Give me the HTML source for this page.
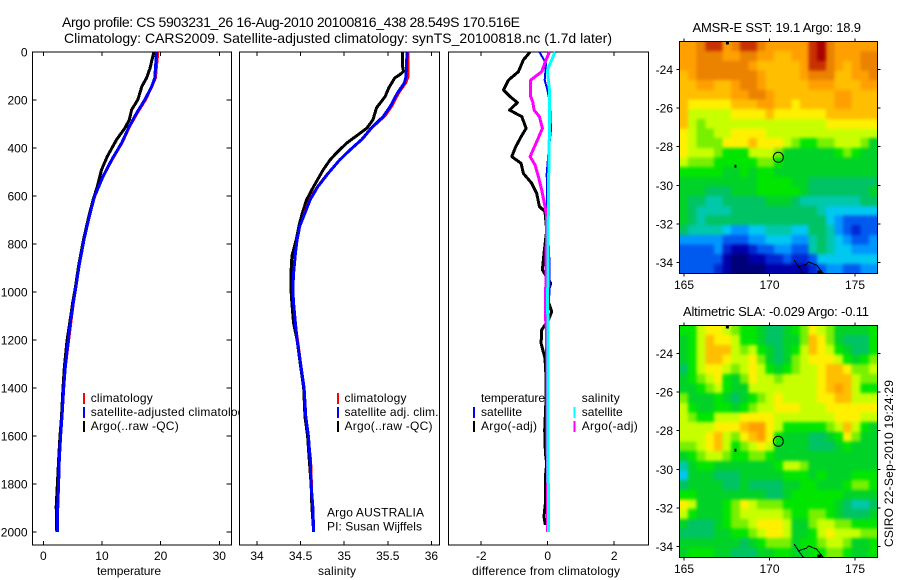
<!DOCTYPE html>
<html lang="en">
<head>
<meta charset="utf-8">
<title>Argo profile CS 5903231_26</title>
<style>
html,body{margin:0;padding:0;background:#fff;width:900px;height:580px;overflow:hidden}
svg{display:block;position:absolute;left:0;top:0}
text{font-family:"Liberation Sans",sans-serif;font-size:12px;fill:#000}
</style>
</head>
<body>
<svg id="chart" width="900" height="580" viewBox="0 0 900 580" xmlns="http://www.w3.org/2000/svg">
  <defs>
    <filter id="soften" x="-10%" y="-10%" width="120%" height="120%" color-interpolation-filters="sRGB">
      <feGaussianBlur stdDeviation="1.6"/>
    </filter>
    <clipPath id="clip-sst"><rect x="679.5" y="41.5" width="198" height="232"/></clipPath>
    <clipPath id="clip-sla"><rect x="679.5" y="325.5" width="198" height="232"/></clipPath>
  </defs>
  <rect width="900" height="580" fill="#fff"/>
  <text x="62" y="27" style="font-size:14px" textLength="458">Argo profile: CS 5903231_26 16-Aug-2010 20100816_438 28.549S 170.516E</text>
  <text x="64" y="43" style="font-size:14px" textLength="548">Climatology: CARS2009. Satellite-adjusted climatology: synTS_20100818.nc (1.7d later)</text>
  <g id="panels"></g>
  <g id="maps"></g>
  <text x="97" y="575" textLength="64">temperature</text>
  <text x="318" y="575" textLength="38">salinity</text>
  <text x="472" y="575" textLength="148">difference from climatology</text>
  <text x="327" y="516.5" textLength="97">Argo AUSTRALIA</text>
  <text x="327" y="530.5" textLength="95">PI: Susan Wijffels</text>
  <text x="692.5" y="32" style="font-size:13px" textLength="168.5">AMSR-E SST: 19.1 Argo: 18.9</text>
  <text x="683" y="316" style="font-size:13px" textLength="186">Altimetric SLA: -0.029 Argo: -0.11</text>
  <text transform="translate(893,547) rotate(-90)" textLength="167">CSIRO 22-Sep-2010 19:24:29</text>
</svg>
<script>
// ---- profile data (depth in m) ----
const tempDepth = [0,108,143,199,254,310,379,449,518,601,685,782,893,976,1047,1130,1200,1310,1400,1520,1600,1700,1800,1895,2000];
const tempClim = [19.6,19.2,18.6,17.5,16.1,14.8,13.5,11.8,10.3,8.85,7.9,7.0,6.15,5.65,5.2,4.75,4.4,3.85,3.5,3.2,3.0,2.8,2.7,2.55,2.4];
const tempSat = [19.3,19.0,18.5,17.3,15.9,14.66,13.35,11.65,10.2,8.75,7.84,6.93,6.08,5.57,5.1,4.6,4.26,3.75,3.47,3.18,2.95,2.73,2.6,2.44,2.39];
const tempArgoDepth = [0,25,67,108,143,199,240,282,317,365,435,490,560,615,685,782,893,976,1047,1130,1200,1310,1400,1520,1600,1700,1800,1895,2000];
const tempArgo = [18.86,18.6,18.2,17.6,16.8,16.1,15.06,14.66,13.9,12.5,10.9,9.94,9.2,8.5,7.75,6.85,6.0,5.5,5.0,4.5,4.05,3.6,3.35,3.1,2.85,2.6,2.4,2.2,2.3];

const salDepth = [0,101,129,171,226,268,317,365,407,449,504,560,615,671,726,782,838,921,990,1047,1130,1200,1310,1400,1520,1600,1700,1800,1895,2000];
const salClim = [35.74,35.74,35.71,35.63,35.55,35.47,35.32,35.21,35.07,34.95,34.81,34.69,34.6,34.54,34.49,34.46,34.44,34.42,34.41,34.42,34.44,34.47,34.51,34.54,34.56,34.59,34.62,34.63,34.64,34.65];
const salSat = [35.72,35.71,35.69,35.61,35.53,35.45,35.31,35.2,35.07,34.95,34.82,34.7,34.61,34.55,34.49,34.46,34.44,34.42,34.41,34.42,34.44,34.46,34.505,34.54,34.56,34.59,34.61,34.62,34.64,34.65];
const salArgoDepth = [0,60,80,94,108,150,185,233,282,317,344,379,421,449,490,560,615,671,726,782,851,921,990,1047,1130,1200,1310,1400,1520,1600,1700,1800,1895,2000];
const salArgo = [35.67,35.67,35.68,35.64,35.58,35.51,35.47,35.37,35.33,35.26,35.16,35.03,34.91,34.84,34.76,34.65,34.57,34.52,34.48,34.45,34.40,34.39,34.39,34.40,34.42,34.46,34.5,34.535,34.55,34.58,34.6,34.62,34.63,34.65];

const diffTempArgoDepth = [0,33,82,117,158,186,211,242,269,318,353,394,436,464,506,547,589,644,665,742,839,908,964,1005,1033,1082,1117,1158,1214,1276,1352,1450,1575,1672,1714,1769,1867,1936,1971];
const diffTempArgo = [-0.53,-0.73,-0.88,-1.18,-1.33,-1.13,-0.91,-1.15,-0.78,-0.65,-0.80,-0.96,-1.08,-0.80,-0.73,-0.48,-0.33,-0.25,-0.08,-0.03,-0.11,-0.16,0.09,-0.01,0.0,0.12,0.02,-0.18,-0.2,-0.08,-0.05,-0.05,-0.09,-0.07,-0.03,-0.07,-0.06,-0.11,-0.07];
const diffTempSatDepth = [0,47,117,158,214,325,421,507,674,868,1005,1214,1400,1700,2000];
const diffTempSat = [-0.25,-0.05,-0.09,-0.01,0.07,0.1,0.02,-0.03,-0.01,0.05,0.05,-0.05,-0.03,-0.02,0.0];
const diffSalArgoDepth = [0,33,82,117,186,207,242,269,318,367,436,471,519,575,644,686,880,1005,1117,1172,1500,2000];
const diffSalArgo = [0.05,-0.05,-0.18,-0.51,-0.51,-0.45,-0.41,-0.25,-0.16,-0.31,-0.53,-0.38,-0.28,-0.18,-0.08,-0.03,-0.05,-0.06,-0.06,-0.03,-0.02,0.0];
const diffSalSatDepth = [0,33,75,158,325,603,1017,2000];
const diffSalSat = [0.22,0.12,-0.01,0.05,0.05,0.02,0.0,0.02];

const depthTicks = [0,200,400,600,800,1000,1200,1400,1600,1800,2000];
const tempTicks = [0,10,20,30];
const salTicks = [34,34.5,35,35.5,36];
const diffTicks = [-2,0,2];
const lonTicks = [165,170,175];
const latTicks = [-24,-26,-28,-30,-32,-34];

// ---- map cells: 0.5-degree rows, north to south, in colour-scale units ----
const sstGrid = [
[14,14,15,16,16,14,15,16,16,15,14,14,14,14,14,16,17,15,14,14,14,14,14],
[14,14,15,15,15,14,14,15,15,14,14,13,13,14,14,16,17,15,14,14,14,15,15],
[14,14,15,15,15,15,15,15,14,13,13,13,13,13,14,16,16,15,14,13,14,15,15],
[13,14,15,15,15,15,15,15,15,14,13,13,13,13,14,15,15,15,13,13,14,14,15],
[13,13,14,14,13,13,14,15,15,14,13,13,13,13,13,14,14,14,13,13,13,14,14],
[13,13,13,13,13,13,14,14,15,15,14,13,13,13,13,13,13,13,14,14,13,13,13],
[13,12,12,12,12,12,13,13,13,14,14,13,13,12,13,13,13,13,14,14,13,13,13],
[13,11,11,11,11,11,12,12,12,12,13,12,12,12,12,12,12,13,13,13,13,13,13],
[13,11,10,11,11,11,11,11,11,11,11,11,11,11,11,11,11,12,12,12,12,12,12],
[12,11,10,10,11,11,12,12,12,12,11,11,11,11,11,11,11,11,11,11,11,11,11],
[12,11,10,10,10,12,12,12,13,12,12,12,11,10,9,9,10,10,11,11,11,10,8],
[12,11,11,11,10,9,9,9,11,11,11,10,8,8,8,8,8,8,9,10,9,8,8],
[11,10,10,10,9,9,9,9,9,10,10,9,8,8,8,8,8,8,8,8,8,8,8],
[9,9,9,9,9,8,8,9,8,9,9,8,8,8,8,8,8,8,8,8,8,8,8],
[8,8,8,8,8,8,8,8,8,9,9,9,9,8,8,7,7,7,7,7,7,7,7],
[8,8,8,7,7,7,8,8,8,9,9,9,9,9,8,7,7,7,7,7,7,7,8],
[8,7,7,6,6,7,7,7,7,7,8,8,8,7,6,6,6,6,6,6,6,7,7],
[8,7,6,6,6,6,7,7,7,7,7,7,7,7,7,7,6,5,5,5,5,5,5],
[8,7,6,7,7,7,7,7,7,7,7,7,7,7,7,7,7,5,4,3,3,3,3],
[7,6,6,6,6,5,4,4,5,5,6,6,6,5,5,7,7,6,4,3,2,3,3],
[4,4,4,4,4,3,3,3,4,4,5,5,5,4,4,6,7,6,5,4,3,3,4],
[3,3,3,3,4,2,1,1,2,3,3,4,4,3,3,6,7,6,5,5,4,4,4],
[3,3,3,3,3,1,0,0,1,1,2,2,3,2,2,3,5,5,5,5,5,5,5],
[3,3,3,3,2,1,0,0,0,0,1,1,1,1,1,2,3,4,4,3,3,4,4]
];
const slaGrid = [
[9,9,11,12,12,11,10,9,9,8,7,7,8,9,10,12,11,10,8,8,8,8,9],
[8,9,11,13,12,12,11,9,9,8,7,7,8,8,10,13,12,10,8,7,7,7,9],
[8,9,11,13,13,13,11,10,11,9,8,7,8,9,11,13,12,11,9,8,7,7,9],
[8,9,11,13,13,12,11,11,12,10,8,7,8,10,11,12,12,12,11,9,8,9,10],
[7,9,11,12,12,11,10,11,12,11,9,8,9,10,11,11,12,13,13,12,10,10,11],
[8,9,10,11,12,9,8,10,12,11,11,10,11,11,11,11,12,13,13,13,11,10,10],
[8,8,9,10,11,9,8,8,11,11,11,11,11,11,11,11,12,13,14,13,11,9,9],
[10,8,8,8,9,8,7,8,9,10,11,12,11,11,11,11,12,12,13,13,11,11,11],
[11,9,8,8,9,9,8,9,10,11,11,12,12,12,11,11,11,12,12,12,12,12,12],
[11,10,9,9,11,11,11,12,12,12,12,11,11,11,11,11,11,11,12,12,12,11,11],
[11,11,11,11,12,12,12,13,14,14,12,11,9,9,9,9,9,10,11,13,11,9,8],
[11,11,11,12,13,11,10,12,13,14,12,9,8,8,8,7,7,8,9,12,10,8,8],
[10,10,11,12,13,11,9,10,11,12,11,8,8,8,8,7,7,7,8,9,8,8,8],
[8,9,10,11,11,10,9,9,10,10,9,8,8,8,8,8,8,8,8,8,8,8,8],
[6,8,9,9,8,8,8,8,8,8,8,9,11,11,10,8,8,8,8,8,8,8,8],
[5,8,8,8,7,7,7,8,8,8,8,8,9,9,9,8,9,8,8,8,9,9,9],
[7,8,8,8,8,7,7,8,7,7,7,7,8,8,9,9,8,8,8,9,10,10,9],
[9,9,8,8,8,8,8,8,8,8,7,7,8,9,9,9,9,9,9,8,8,8,8],
[12,11,8,8,8,9,10,12,11,10,10,10,9,9,9,9,9,9,8,7,6,6,7],
[11,9,8,8,8,9,10,11,11,11,11,11,10,9,9,10,10,9,8,7,7,7,8],
[8,7,7,7,8,9,10,10,11,12,12,12,11,8,8,10,11,11,10,10,9,9,9],
[7,7,7,7,8,8,9,9,10,11,12,12,11,8,8,9,11,12,11,11,11,10,10],
[8,8,8,8,8,8,8,7,8,9,10,10,10,8,9,9,10,11,11,10,8,8,9],
[8,9,9,9,8,8,7,7,7,8,8,9,9,8,8,9,9,10,10,9,8,8,9]
];
const coastLon = [171.45,171.69,171.98,171.69,172.17,172.27,172.76,173.15];
const coastLat = [-33.88,-34.22,-34.57,-34.22,-34.09,-33.97,-34.14,-34.57];
const floatLon = 170.516;
const floatLat = -28.549;

const NS = 'http://www.w3.org/2000/svg';
function mk(tag, parent){ const e = document.createElementNS(NS, tag); parent.appendChild(e); return e; }
function set(e, a){ for (const k in a) e.setAttribute(k, a[k]); return e; }

const TOP = 52, BOTTOM = 545;
const yDepth = d => TOP + d * 0.24;
const panelsG = document.getElementById('panels');
const mapsG = document.getElementById('maps');
const xTemp = v => 43.3 + v * 5.867;
const xSal = v => 257 + (v - 34) * 87.2;
const xDiff = v => 547.7 + v * 33.25;

function frame(name, left, right, xScale, ticks, showDepth){
  const g = mk('g', panelsG);
  
  
  const bg = mk('rect', g);
  
  
  set(bg, {x:left, y:TOP, width:right-left, height:BOTTOM-TOP, fill:'#fff', stroke:'#000', 'stroke-width':1, 'shape-rendering':'crispEdges'});
  ticks.forEach(t => {
    const x = xScale(t);
    const tt = mk('path', g);
    
    
    set(tt, {d:`M${x} ${TOP}v4M${x} ${BOTTOM}v-4`, stroke:'#000', fill:'none', 'shape-rendering':'crispEdges'});
    const lb = mk('text', g);
    
    
    set(lb, {x:x, y:560, 'text-anchor':'middle'});
    lb.textContent = String(t);
  });
  if (showDepth) depthTicks.forEach(d => {
    const y = yDepth(d);
    if (d > 0) {
      const tt = mk('path', g);
      
      
      set(tt, {d:`M${left} ${y}h4M${right} ${y}h-5`, stroke:'#000', fill:'none', 'shape-rendering':'crispEdges'});
    }
    const lb = mk('text', g);
    
    
    set(lb, {x:27.5, y:y+4.5, 'text-anchor':'end'});
    lb.textContent = String(d);
  });
  return g;
}
function line(g, name, xs, ds, xScale, color, w){
  const p = mk('polyline', g);
  
  
  set(p, {points: xs.map((v,i)=>xScale(v).toFixed(1)+','+yDepth(ds[i]).toFixed(1)).join(' '), fill:'none', stroke:color, 'stroke-width':w, 'shape-rendering':'crispEdges', 'stroke-linejoin':'round'});
}
function legend(g, name, x, tx, y, color, label, len){
  if (color) {
    const s = mk('rect', g);
    
    
    set(s, {x:x, y:y-9, width:2, height:11, fill:color});
  }
  const t = mk('text', g);
  
  
  set(t, {x:tx, y:y, textLength:len});
  t.textContent = label;
}

const p1 = frame('temperature', 32.5, 231.5, xTemp, tempTicks, true);
line(p1, 'temperature-argo-line', tempArgo, tempArgoDepth, xTemp, '#000', 3);
line(p1, 'temperature-climatology-line', tempClim, tempDepth, xTemp, '#f00', 2);
line(p1, 'temperature-satellite-line', tempSat, tempDepth, xTemp, '#00f', 3);
legend(p1, 'legend-climatology', 83, 90.7, 402, '#f00', 'climatology', 62);
legend(p1, 'legend-satellite-adjusted', 83, 90.7, 416, '#00f', 'satellite-adjusted climatology', 160);
legend(p1, 'legend-argo', 83, 90.7, 430, '#000', 'Argo(..raw -QC)', 88);

const p2 = frame('salinity', 239.5, 439.5, xSal, salTicks, false);
line(p2, 'salinity-argo-line', salArgo, salArgoDepth, xSal, '#000', 3);
line(p2, 'salinity-climatology-line', salClim, salDepth, xSal, '#f00', 2);
line(p2, 'salinity-satellite-line', salSat, salDepth, xSal, '#00f', 3);
legend(p2, 'legend-climatology-sal', 337, 344.5, 402, '#f00', 'climatology', 62);
legend(p2, 'legend-satellite-sal', 337, 344.5, 416, '#00f', 'satellite adj. clim.', 94);
legend(p2, 'legend-argo-sal', 337, 344.5, 430, '#000', 'Argo(..raw -QC)', 88);

const p3 = frame('difference', 448.5, 648.5, xDiff, diffTicks, false);
line(p3, 'difference-temperature-argo-line', diffTempArgo, diffTempArgoDepth, xDiff, '#000', 3);
line(p3, 'difference-temperature-satellite-line', diffTempSat, diffTempSatDepth, xDiff, '#00f', 2);
line(p3, 'difference-salinity-argo-line', diffSalArgo, diffSalArgoDepth, xDiff, '#f0f', 3);
line(p3, 'difference-salinity-satellite-line', diffSalSat, diffSalSatDepth, xDiff, '#0ff', 3);
legend(p3, 'legend-temperature-heading', 0, 481, 402, null, 'temperature', 64);
legend(p3, 'legend-temp-satellite', 473, 481, 416, '#00f', 'satellite', 41);
legend(p3, 'legend-temp-argo', 473, 481, 430, '#000', 'Argo(-adj)', 56);
legend(p3, 'legend-salinity-heading', 0, 581.7, 402, null, 'salinity', 38);
legend(p3, 'legend-sal-satellite', 573.5, 581.7, 416, '#0ff', 'satellite', 41);
legend(p3, 'legend-sal-argo', 573.5, 581.7, 430, '#f0f', 'Argo(-adj)', 56);

// ---- colour scale shared by the maps ----
const palette = ['#000078','#0000aa','#0028d2','#005af0','#0096ff','#00c8f0','#00c8aa','#00c364','#00d228','#00e600','#78f000','#c8ff00','#fff000','#ffbe00','#ffa000','#eb8200','#c83200','#aa0000'];
function color(v){
  const i = Math.max(0, Math.min(palette.length-1, Math.round(v)));
  return palette[i];
}
function drawMap(name, grid, top){
  const L = 679.5, R = 877.5, H = 232;
  const xLon = lon => 684 + (lon-165)*17.1;
  const yLat = lat => top + 28 + (-lat-24)*19.3;
  const g = mk('g', mapsG);
  
  
  const clip = mk('g', g);
  
  
  clip.setAttribute('clip-path', 'url(#clip-' + name + ')');
  const field = mk('g', clip);
  
  
  field.setAttribute('filter', 'url(#soften)');
  const rows = grid.length, pad = 10;
  grid.forEach((row, r) => {
    const cw = (R-L)/row.length, ch = H/rows;
    row.forEach((v, c) => {
      const cell = mk('rect', field);
      
      
      const x0 = L + c*cw - (c === 0 ? pad : 0);
      const x1 = L + (c+1)*cw + (c === row.length-1 ? pad : 0.5);
      const y0 = top + r*ch - (r === 0 ? pad : 0);
      const y1 = top + (r+1)*ch + (r === rows-1 ? pad : 0.5);
      set(cell, {x:x0.toFixed(2), y:y0.toFixed(2), width:(x1-x0).toFixed(2), height:(y1-y0).toFixed(2), fill:color(v), 'shape-rendering':'crispEdges'});
    });
  });
  const box = mk('rect', g);
  
  
  set(box, {x:L, y:top, width:R-L, height:H, fill:'none', stroke:'#000', 'shape-rendering':'crispEdges'});
  lonTicks.forEach(t => {
    const x = xLon(t);
    const k = mk('path', g);
    
    
    set(k, {d:`M${x} ${top}v-3M${x} ${top+H}v3`, stroke:'#000', 'shape-rendering':'crispEdges'});
    const lb = mk('text', g);
    
    
    set(lb, {x:x, y:top+H+15.7, 'text-anchor':'middle'});
    lb.textContent = String(t);
  });
  latTicks.forEach(t => {
    const y = yLat(t);
    const k = mk('path', g);
    
    
    set(k, {d:`M${L} ${y}h-3M${R} ${y}h3`, stroke:'#000', 'shape-rendering':'crispEdges'});
    const lb = mk('text', g);
    
    
    set(lb, {x:673, y:y+4.5, 'text-anchor':'end'});
    lb.textContent = String(t);
  });
  const coast = mk('polyline', g);
  
  
  set(coast, {points: coastLon.map((v,i)=>xLon(v).toFixed(1)+','+Math.min(top+H,yLat(coastLat[i])).toFixed(1)).join(' '), fill:'none', stroke:'#000', 'shape-rendering':'crispEdges'});
  const isle = mk('rect', g);
  
  
  set(isle, {x:xLon(167.95), y:yLat(-29.04)-2, width:2, height:3, fill:'#000'});
  const isle2 = mk('rect', g);
  
  
  set(isle2, {x:xLon(167.45), y:top, width:3, height:3, fill:'#000'});
  const cape = mk('rect', g);
  
  
  set(cape, {x:xLon(172.8), y:top+H-3, width:4, height:3, fill:'#000'});
  const c = mk('circle', g);
  
  
  set(c, {cx:xLon(floatLon), cy:yLat(floatLat), r:5, fill:'none', stroke:'#000'});
}
drawMap('sst', sstGrid, 41.5);
drawMap('sla', slaGrid, 325.5);
</script>
</body>
</html>
